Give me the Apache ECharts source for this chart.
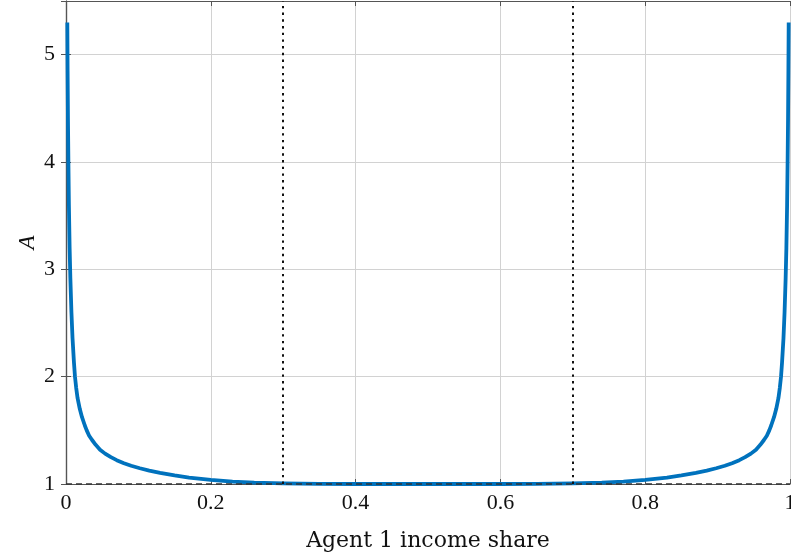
<!DOCTYPE html>
<html>
<head>
<meta charset="utf-8">
<script src="https://cdn.jsdelivr.net/npm/echarts@6/dist/echarts.min.js"></script>
<style>
  html, body { margin: 0; padding: 0; background: #fff; }
  #chart { width: 791px; height: 559px; }
</style>
</head>
<body>
<div id="chart"></div>
<script>
// Income share of agent 1 (x) and the resulting A (y)
const incomeShare = [
  0.0018, 0.0022, 0.0027, 0.0033, 0.004, 0.005, 0.006, 0.0075, 0.009, 0.011,
  0.0124, 0.014, 0.016, 0.019, 0.022, 0.026, 0.0286, 0.032, 0.036, 0.041,
  0.047, 0.054, 0.062, 0.07, 0.08, 0.09, 0.102, 0.115, 0.13, 0.15,
  0.17, 0.2, 0.23, 0.26, 0.3, 0.35, 0.4, 0.5,
  0.6, 0.65, 0.7, 0.74, 0.77, 0.8, 0.83, 0.85, 0.87, 0.885,
  0.898, 0.91, 0.92, 0.93, 0.938, 0.946, 0.953, 0.959, 0.964, 0.968,
  0.9714, 0.974, 0.978, 0.981, 0.984, 0.986, 0.9876, 0.989, 0.991, 0.9925,
  0.994, 0.995, 0.996, 0.9967, 0.9973, 0.9978, 0.9982
];
const valueA = [
  5.30, 4.85, 4.40, 4.00, 3.60, 3.20, 2.92, 2.60, 2.36, 2.13,
  2.00, 1.90, 1.80, 1.70, 1.625, 1.545, 1.50, 1.45, 1.41, 1.365,
  1.32, 1.283, 1.25, 1.222, 1.194, 1.17, 1.147, 1.125, 1.104, 1.08,
  1.06, 1.038, 1.022, 1.012, 1.005, 1.001, 1.000, 1.000,
  1.000, 1.001, 1.005, 1.012, 1.022, 1.038, 1.06, 1.08, 1.104, 1.125,
  1.147, 1.17, 1.194, 1.222, 1.25, 1.283, 1.32, 1.365, 1.41, 1.45,
  1.50, 1.545, 1.625, 1.70, 1.80, 1.90, 2.00, 2.13, 2.36, 2.60,
  2.92, 3.20, 3.60, 4.00, 4.40, 4.85, 5.30
];

// Reference lines
const shareBounds = [0.3, 0.7];   // vertical dotted lines
const baselineA = 1;              // horizontal dashed line

// Axis ticks and labels
const xTicks = [0, 0.2, 0.4, 0.6, 0.8, 1];
const xTickLabels = ['0', '0.2', '0.4', '0.6', '0.8', '1'];
const yTicks = [1, 2, 3, 4, 5];
const yTickLabels = ['1', '2', '3', '4', '5'];

const xAxisTitle = 'Agent 1 income share';
const yAxisTitle = 'A';

const frameColor = '#555555';
const gridColor = '#d2d2d2';
const tickFont = 'Liberation Serif';
const titleFont = 'DejaVu Serif';

function labelFor(ticks, labels) {
  return function (v) {
    for (let i = 0; i < ticks.length; i++) {
      if (Math.abs(ticks[i] - v) < 1e-9) return labels[i];
    }
    return '';
  };
}

const chart = echarts.init(document.getElementById('chart'), null, { renderer: 'canvas' });

const baseX = { type: 'value', min: 0, max: 1, interval: 0.2 };
const baseY = { type: 'value', min: 1, max: 5.5, interval: 1 };
const frameLine = { show: true, lineStyle: { color: frameColor, width: 1.2 } };
const innerTick = { show: true, inside: true, length: 5, lineStyle: { color: frameColor, width: 1 } };

const option = {
  animation: false,
  backgroundColor: '#ffffff',
  grid: { left: 66, right: 1, top: 1, bottom: 75, containLabel: false, outerBoundsMode: 'none' },
  xAxis: [
    Object.assign({}, baseX, {
      position: 'bottom',
      axisLine: frameLine,
      axisTick: innerTick,
      splitLine: { show: true, lineStyle: { color: gridColor, width: 1 } },
      axisLabel: {
        show: true, margin: 8, color: '#111', fontFamily: tickFont, fontSize: 22,
        formatter: labelFor(xTicks, xTickLabels)
      },
      name: xAxisTitle,
      nameLocation: 'middle',
      nameGap: 46,
      nameMoveOverlap: false,
      nameTextStyle: { color: '#111', fontFamily: titleFont, fontSize: 22 }
    }),
    Object.assign({}, baseX, {
      position: 'top',
      axisLine: frameLine,
      axisTick: innerTick,
      splitLine: { show: false },
      axisLabel: { show: false }
    })
  ],
  yAxis: [
    Object.assign({}, baseY, {
      position: 'left',
      axisLine: frameLine,
      axisTick: innerTick,
      splitLine: { show: true, lineStyle: { color: gridColor, width: 1 } },
      axisLabel: {
        show: true, margin: 11, color: '#111', fontFamily: tickFont, fontSize: 22,
        formatter: labelFor(yTicks, yTickLabels)
      },
      name: yAxisTitle,
      nameLocation: 'middle',
      nameGap: 27,
      nameRotate: 90,
      nameMoveOverlap: false,
      nameTextStyle: { color: '#111', fontFamily: tickFont, fontStyle: 'italic', fontSize: 23 }
    }),
    Object.assign({}, baseY, {
      position: 'right',
      axisLine: frameLine,
      axisTick: innerTick,
      splitLine: { show: false },
      axisLabel: { show: false }
    })
  ],
  series: [
    {
      type: 'line',
      xAxisIndex: 0,
      yAxisIndex: 0,
      data: incomeShare.map((x, i) => [x, valueA[i]]),
      showSymbol: false,
      smooth: false,
      lineStyle: { color: '#0072BD', width: 3.8, join: 'round' },
      z: 2,
      markLine: {
        silent: true,
        symbol: ['none', 'none'],
        label: { show: false },
        z: 5,
        data: [
          { xAxis: shareBounds[0], lineStyle: { color: '#111', width: 2, type: [2.4, 4.3] } },
          { xAxis: shareBounds[1], lineStyle: { color: '#111', width: 2, type: [2.4, 4.3] } },
          { yAxis: baselineA, lineStyle: { color: '#333', width: 1.6, type: [6, 4] } }
        ]
      }
    }
  ]
};

chart.setOption(option);
</script>
</body>
</html>
